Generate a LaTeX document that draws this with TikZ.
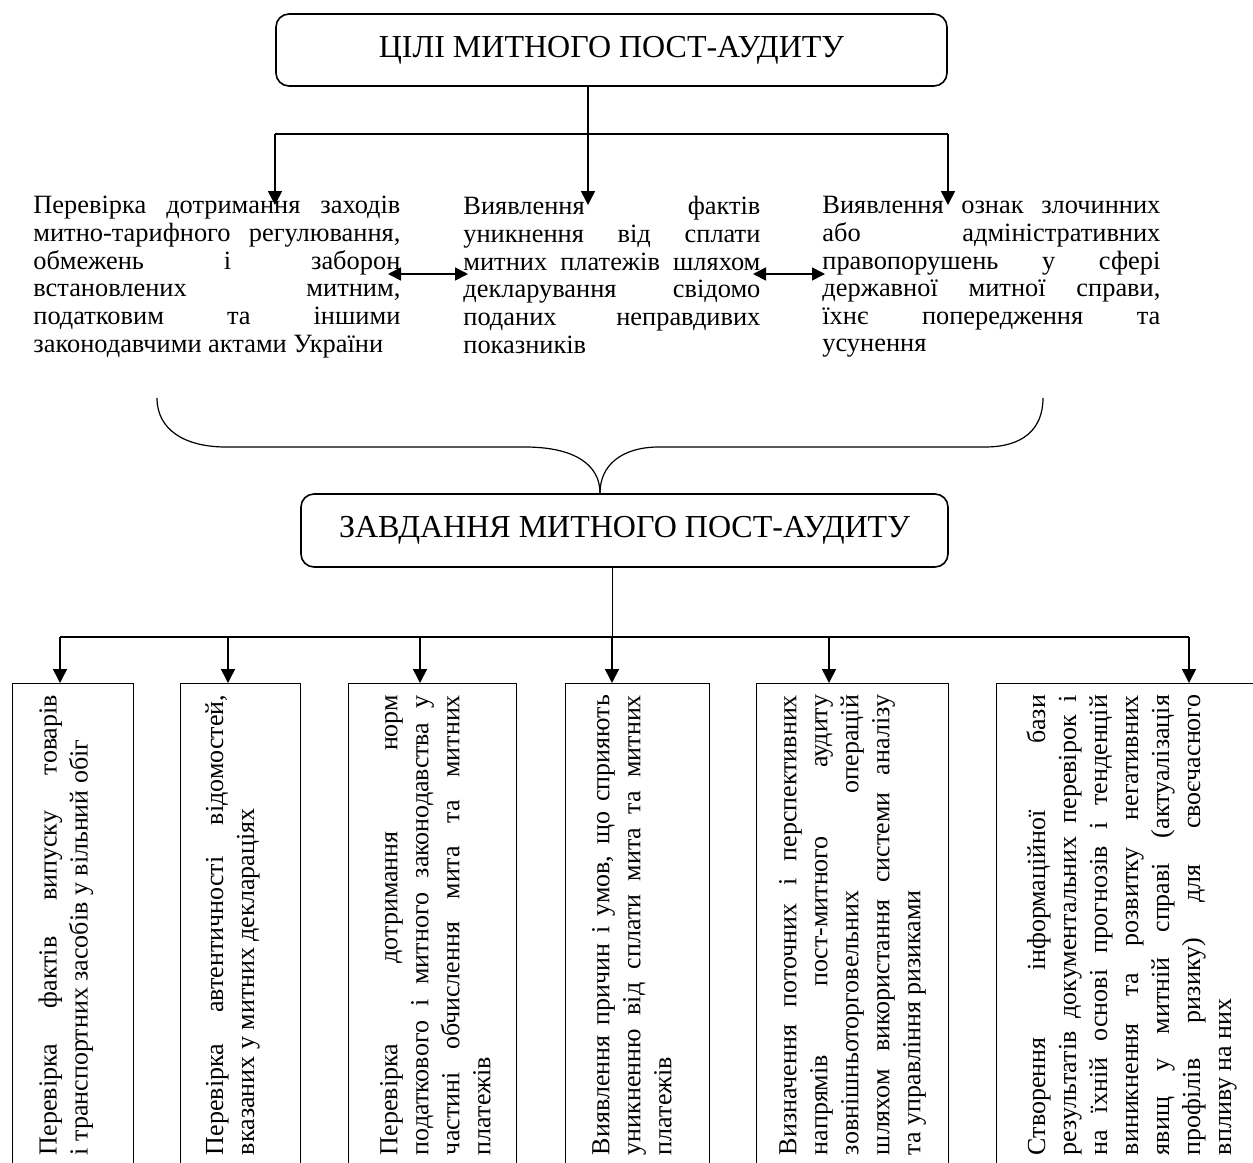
\documentclass[tikz,border=0pt]{standalone}
\usepackage{fontspec}
\setmainfont{Liberation Serif}
\usetikzlibrary{arrows.meta}
\begin{document}
\begin{tikzpicture}[x=0.5pt,y=-0.5pt,
  headbox/.style={draw,line width=0.8pt,rounded corners=6.5pt,inner sep=0pt,
    font=\fontsize{16}{18}\selectfont},
  goaltext/.style={anchor=north west,inner sep=0pt,align=justify,
    font=\fontsize{13.2}{13.83}\selectfont},
  taskbox/.style={draw,line width=0.7pt,anchor=north west,inner sep=0pt,minimum height=250pt},
  tasktext/.style={rotate=90,anchor=center,inner sep=0pt,align=justify,text width=230pt,
    font=\fontsize{13}{15.5}\selectfont},
  conn/.style={line width=0.8pt},
  arr/.style={line width=0.8pt,-{Triangle[length=7pt,width=7pt]}},
  darr/.style={line width=0.8pt,{Triangle[length=6.5pt,width=6.5pt]}-{Triangle[length=6.5pt,width=6.5pt]}}
]
\useasboundingbox (0,0) rectangle (1253,1162);
\clip (0,0) rectangle (1253,1162);
\hyphenpenalty=10000 \exhyphenpenalty=10000

% head boxes
\node[headbox,minimum width=335.5pt,minimum height=36pt] (goals) at (611.5,50) {ЦІЛІ МИТНОГО ПОСТ-АУДИТУ};
\node[headbox,minimum width=323.5pt,minimum height=36.5pt] (tasks) at (624.5,530.5) {ЗАВДАННЯ МИТНОГО ПОСТ-АУДИТУ};

% goal texts
\node[goaltext,text width=183.5pt] (g1) at (33,196) {\hyphenpenalty=10000 Перевірка дотримання заходів \linebreak митно-тарифного регулювання, \linebreak обмежень і заборон \linebreak встановлених митним, \linebreak податковим та іншими \linebreak законодавчими актами України};
\node[goaltext,text width=148.5pt] (g2) at (463,196) {\hyphenpenalty=10000 Виявлення фактів \linebreak уникнення від сплати \linebreak митних платежів шляхом \linebreak декларування свідомо \linebreak поданих неправдивих \linebreak показників};
\node[goaltext,text width=169pt] (g3) at (822,196) {\hyphenpenalty=10000 Виявлення ознак злочинних \linebreak або адміністративних \linebreak правопорушень у сфері \linebreak державної митної справи, \linebreak їхнє попередження та \linebreak усунення};

% top connectors
\coordinate (j1) at (588,134);
\coordinate (a1) at (275,205);
\coordinate (a2) at (588,205);
\coordinate (a3) at (948,205);
\draw[conn] (goals.south -| j1) -- (j1);
\draw[conn] (j1 -| a1) -- (j1 -| a3);
\draw[arr] (j1 -| a1) -- (a1);
\draw[arr] (j1) -- (a2);
\draw[arr] (j1 -| a3) -- (a3);

\coordinate (d1l) at (388,274);
\coordinate (d1r) at (468,274);
\coordinate (d2l) at (753,274);
\coordinate (d2r) at (825,274);
\draw[darr] (d1l) -- (d1r);
\draw[darr] (d2l) -- (d2r);

% brace
\draw[line width=0.6pt] (157,398) .. controls (157,430) and (185,447) .. (226,447)
  -- (525,447) .. controls (575,447) and (600,465) .. (600,493);
\draw[line width=0.6pt] (600,493) .. controls (600,465) and (622,447) .. (659,447)
  -- (985,447) .. controls (1022,447) and (1043,430) .. (1043,398);

% task boxes
\node[taskbox,minimum width=60.5pt] (b1) at (12,683) {};
\node[taskbox,minimum width=60pt] (b2) at (180,683) {};
\node[taskbox,minimum width=84pt] (b3) at (348,683) {};
\node[taskbox,minimum width=72pt] (b4) at (565,683) {};
\node[taskbox,minimum width=96pt] (b5) at (756,683) {};
\node[taskbox,minimum width=150pt] (b6) at (996,683) {};

\node[tasktext] (t1) at (66,925) {\hyphenpenalty=10000 Перевірка фактів випуску товарів \linebreak і транспортних засобів у вільний обіг};
\node[tasktext] (t2) at (232.5,925) {\hyphenpenalty=10000 Перевірка автентичності відомостей, \linebreak вказаних у митних деклараціях};
\node[tasktext] (t3) at (435.5,925) {\hyphenpenalty=10000 Перевірка дотримання норм \linebreak податкового і митного законодавства у \linebreak частині обчислення мита та митних \linebreak платежів};
\node[tasktext] (t4) at (632,925) {\hyphenpenalty=10000 Виявлення причин і умов, що сприяють \linebreak уникненню від сплати мита та митних \linebreak платежів};
\node[tasktext] (t5) at (852.5,925) {\hyphenpenalty=10000 Визначення поточних і перспективних \linebreak напрямів пост-митного аудиту \linebreak зовнішньоторговельних операцій \linebreak шляхом використання системи аналізу \linebreak та управління ризиками};
\node[tasktext] (t6) at (1131.7,925) {\hyphenpenalty=10000 Створення інформаційної бази \linebreak результатів документальних перевірок і \linebreak на їхній основі прогнозів і тенденцій \linebreak виникнення та розвитку негативних \linebreak явищ у митній справі (актуалізація \linebreak профілів ризику) для своєчасного \linebreak впливу на них};

% bottom connectors
\coordinate (j2) at (612,637);
\coordinate (c1) at (60,637);
\coordinate (c2) at (228,637);
\coordinate (c3) at (420,637);
\coordinate (c4) at (612,637);
\coordinate (c5) at (829,637);
\coordinate (c6) at (1189,637);
\draw[line width=0.5pt] (tasks.south -| j2) -- (j2);
\draw[conn] (c1) -- (c6);
\draw[arr] (c1) -- (c1 |- b1.north);
\draw[arr] (c2) -- (c2 |- b2.north);
\draw[arr] (c3) -- (c3 |- b3.north);
\draw[arr] (c4) -- (c4 |- b4.north);
\draw[arr] (c5) -- (c5 |- b5.north);
\draw[arr] (c6) -- (c6 |- b6.north);
\end{tikzpicture}
\end{document}
